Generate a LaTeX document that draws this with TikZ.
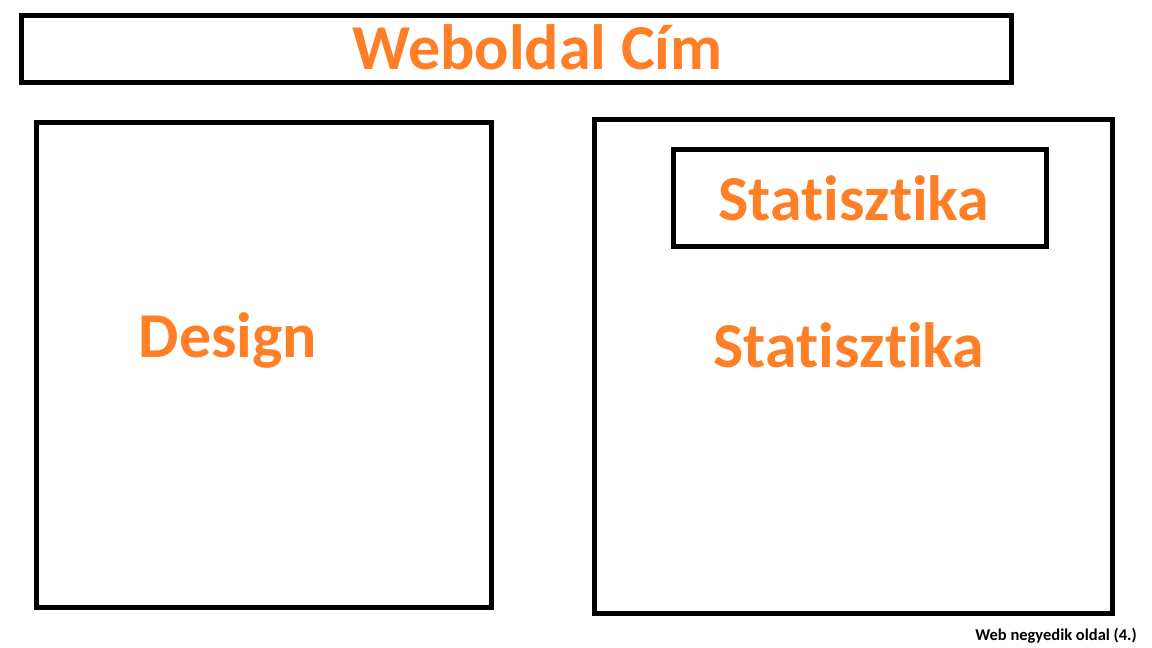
\documentclass[tikz,border=0pt]{standalone}
\usepackage{fontspec}
\setmainfont{Carlito}[Ligatures=NoCommon]
\definecolor{paintorange}{RGB}{255,127,39}
\begin{document}
\begin{tikzpicture}[x=1pt,y=-1pt,
  frame/.style={draw=black,line width=5pt},
  big/.style={text=paintorange,font=\fontsize{64}{64}\selectfont\bfseries,inner sep=0pt,anchor=base},
  small/.style={text=black,font=\fontsize{16.5}{16.5}\selectfont\bfseries,inner sep=0pt,anchor=base}]
\useasboundingbox[fill=white] (0,0) rectangle (1152,648);
\draw[frame] (21.5,15.5) rectangle (1011.5,82.5);
\draw[frame] (36.5,122.5) rectangle (491.5,607.5);
\draw[frame] (594.5,119.5) rectangle (1112.5,613.5);
\draw[frame] (673.5,149.5) rectangle (1046.5,246.5);
\node[big] (title) at (537.5,69) {Weboldal Cím};
\node[big] (stat1) at (854,220) {Statisztika};
\node[big] (design) at (228,357) {Design};
\node[big] (stat2) at (849,367) {Statisztika};
\node[small] (foot) at (1056,640) {Web negyedik oldal (4.)};
\end{tikzpicture}
\end{document}
